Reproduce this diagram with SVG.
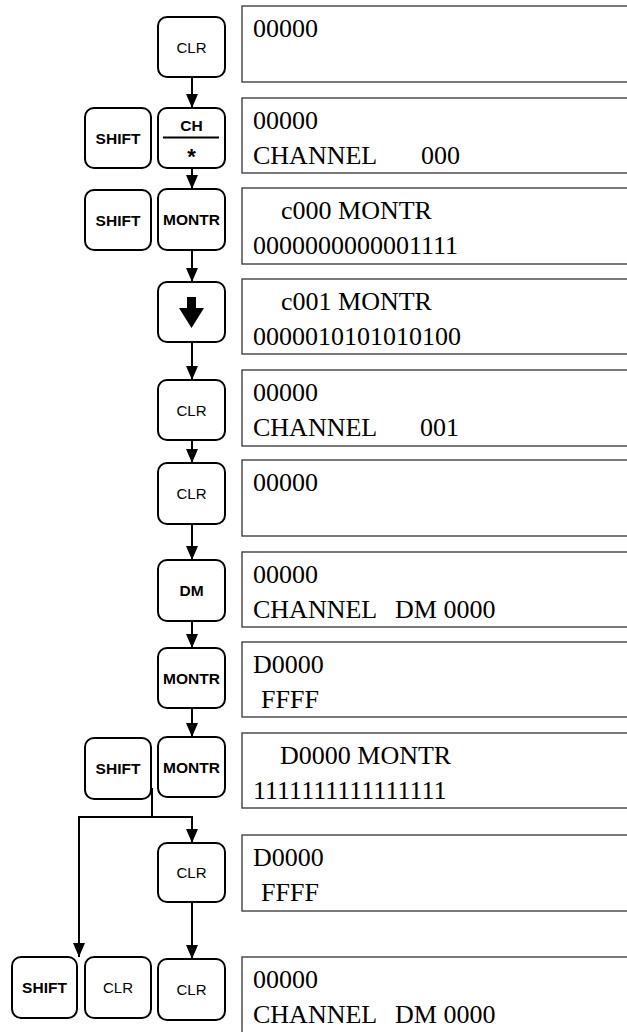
<svg xmlns="http://www.w3.org/2000/svg" width="627" height="1032" viewBox="0 0 627 1032">
<style>
.key{fill:#fff;stroke:#000;stroke-width:2}
.kl{font-family:"Liberation Sans",Arial,sans-serif;font-size:15px;text-anchor:middle;fill:#000}
.kb{font-family:"Liberation Sans",Arial,sans-serif;font-size:15.5px;font-weight:bold;text-anchor:middle;fill:#000}
.box{fill:#fff;stroke:#333;stroke-width:1.3}
.dt{font-family:"Liberation Serif","Times New Roman",serif;font-size:26px;fill:#000}
.con{fill:none;stroke:#000;stroke-width:2}
</style>
<defs>
<marker id="ah" markerUnits="userSpaceOnUse" markerWidth="14" markerHeight="12" viewBox="0 0 14 12" refX="14" refY="6" orient="auto">
<path d="M0,0 L14,6 L0,12 Z" fill="#000"/>
</marker>
</defs>
<g id="connectors">
<line class="con" x1="192" y1="77" x2="192" y2="108" marker-end="url(#ah)"/>
<line class="con" x1="192" y1="168" x2="192" y2="189" marker-end="url(#ah)"/>
<line class="con" x1="192" y1="250" x2="192" y2="282" marker-end="url(#ah)"/>
<line class="con" x1="192" y1="342" x2="192" y2="380" marker-end="url(#ah)"/>
<line class="con" x1="192" y1="440" x2="192" y2="463" marker-end="url(#ah)"/>
<line class="con" x1="192" y1="524" x2="192" y2="560" marker-end="url(#ah)"/>
<line class="con" x1="192" y1="621" x2="192" y2="648" marker-end="url(#ah)"/>
<line class="con" x1="192" y1="708" x2="192" y2="737" marker-end="url(#ah)"/>
<path class="con" d="M152,788 V817 H192 V843" marker-end="url(#ah)"/>
<path class="con" d="M152,817 H79 V957" marker-end="url(#ah)"/>
<line class="con" x1="192" y1="902" x2="192" y2="959" marker-end="url(#ah)"/>
</g>
<g id="key1"><rect class="key" x="158" y="17" width="67" height="60" rx="9"/><text class="kl" x="191.5" y="52.5">CLR</text></g>
<g id="key2-shift"><rect class="key" x="85" y="108" width="66" height="60" rx="9"/><text class="kb" x="118" y="143.5">SHIFT</text></g>
<g id="key2"><rect class="key" x="158" y="108" width="67" height="60" rx="9"/><text class="kb" x="191.5" y="131">CH</text><line x1="163" y1="137.5" x2="219" y2="137.5" stroke="#000" stroke-width="2"/><text class="kb" x="191.5" y="164" style="font-size:22px">*</text></g>
<g id="key3-shift"><rect class="key" x="85" y="190" width="66" height="60" rx="9"/><text class="kb" x="118" y="225.5">SHIFT</text></g>
<g id="key3"><rect class="key" x="158" y="189" width="67" height="61" rx="9"/><text class="kb" x="191.5" y="225">MONTR</text></g>
<g id="key4"><rect class="key" x="158" y="282" width="67" height="60" rx="9"/><polygon points="187,297 196,297 196,308 204,308 191.5,328 179,308 187,308" fill="#000"/></g>
<g id="key5"><rect class="key" x="158" y="380" width="67" height="60" rx="9"/><text class="kl" x="191.5" y="415.5">CLR</text></g>
<g id="key6"><rect class="key" x="158" y="463" width="67" height="61" rx="9"/><text class="kl" x="191.5" y="499">CLR</text></g>
<g id="key7"><rect class="key" x="158" y="560" width="67" height="61" rx="9"/><text class="kb" x="191.5" y="596">DM</text></g>
<g id="key8"><rect class="key" x="158" y="648" width="67" height="60" rx="9"/><text class="kb" x="191.5" y="683.5">MONTR</text></g>
<g id="key9-shift"><rect class="key" x="85" y="738" width="66" height="61" rx="9"/><text class="kb" x="118" y="774">SHIFT</text></g>
<g id="key9"><rect class="key" x="158" y="737" width="67" height="60" rx="9"/><text class="kb" x="191.5" y="772.5">MONTR</text></g>
<g id="key10"><rect class="key" x="158" y="843" width="67" height="59" rx="9"/><text class="kl" x="191.5" y="878">CLR</text></g>
<g id="key11-shift"><rect class="key" x="12" y="957" width="65" height="61" rx="9"/><text class="kb" x="44.5" y="993">SHIFT</text></g>
<g id="key11-clr"><rect class="key" x="85" y="957" width="66" height="61" rx="9"/><text class="kl" x="118" y="993">CLR</text></g>
<g id="key11"><rect class="key" x="158" y="959" width="67" height="61" rx="9"/><text class="kl" x="191.5" y="995">CLR</text></g>
<g id="disp1"><rect class="box" x="242" y="6" width="400" height="76"/><text class="dt" x="253" y="37">00000</text></g>
<g id="disp2"><rect class="box" x="242" y="98" width="400" height="75"/><text class="dt" x="253" y="129">00000</text><text class="dt" x="253" y="164">CHANNEL<tspan x="421">000</tspan></text></g>
<g id="disp3"><rect class="box" x="242" y="188" width="400" height="76"/><text class="dt" x="281" y="219">c000 MONTR</text><text class="dt" x="253" y="254">0000000000001111</text></g>
<g id="disp4"><rect class="box" x="242" y="279" width="400" height="75"/><text class="dt" x="281" y="310">c001 MONTR</text><text class="dt" x="253" y="345">0000010101010100</text></g>
<g id="disp5"><rect class="box" x="242" y="370" width="400" height="76"/><text class="dt" x="253" y="401">00000</text><text class="dt" x="253" y="436">CHANNEL<tspan x="420">001</tspan></text></g>
<g id="disp6"><rect class="box" x="242" y="460" width="400" height="76"/><text class="dt" x="253" y="491">00000</text></g>
<g id="disp7"><rect class="box" x="242" y="552" width="400" height="75"/><text class="dt" x="253" y="583">00000</text><text class="dt" x="253" y="618">CHANNEL<tspan x="395">DM 0000</tspan></text></g>
<g id="disp8"><rect class="box" x="242" y="642" width="400" height="75"/><text class="dt" x="253" y="673">D0000</text><text class="dt" x="261" y="708">FFFF</text></g>
<g id="disp9"><rect class="box" x="242" y="733" width="400" height="75"/><text class="dt" x="280" y="764">D0000 MONTR</text><text class="dt" x="253" y="799">1111111111111111</text></g>
<g id="disp10"><rect class="box" x="242" y="835" width="400" height="76"/><text class="dt" x="253" y="866">D0000</text><text class="dt" x="261" y="901">FFFF</text></g>
<g id="disp11"><rect class="box" x="242" y="957" width="400" height="100"/><text class="dt" x="253" y="988">00000</text><text class="dt" x="253" y="1023">CHANNEL<tspan x="395">DM 0000</tspan></text></g>
</svg>
